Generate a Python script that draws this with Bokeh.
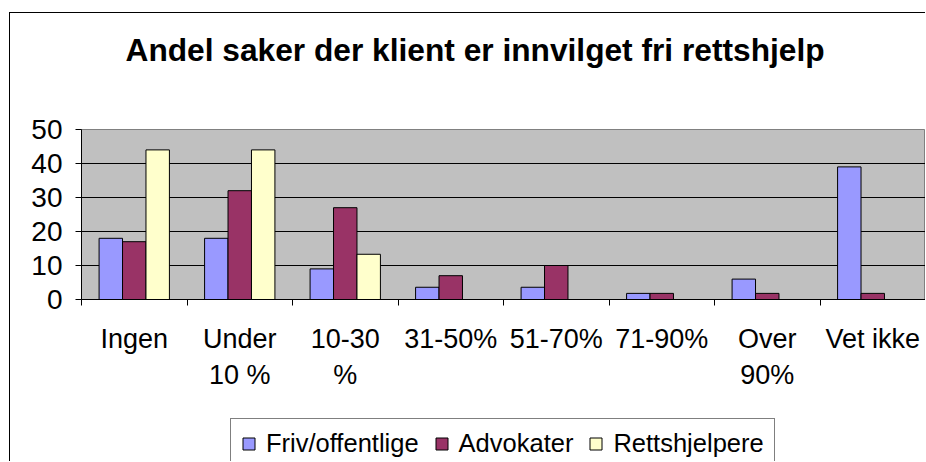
import numpy as np
from bokeh.plotting import figure
from bokeh.layouts import column
from bokeh.models import Range1d, FixedTicker, Legend, LegendItem, ColumnDataSource, Title
from bokeh.embed import file_html
from bokeh.resources import INLINE

categories = ["Ingen", "Under 10 %", "10-30 %", "31-50%", "51-70%", "71-90%", "Over 90%", "Vet ikke"]
tick_labels = ["Ingen", "Under\n10 %", "10-30\n%", "31-50%", "51-70%", "71-90%", "Over\n90%", "Vet ikke"]
series_names = ["Friv/offentlige", "Advokater", "Rettshjelpere"]
friv = [18, 18, 9, 3.6, 3.6, 1.8, 6, 39]
advokater = [17, 32, 27, 7, 10, 1.8, 1.8, 1.8]
rettshjelpere = [44, 44, 13.3, None, None, None, None, None]
colors = ["#9999FF", "#993366", "#FFFFCC"]
y_ticks = [0, 10, 20, 30, 40, 50]
chart_title = "Andel saker der klient er innvilget fri rettshjelp"

FONT = "Liberation Sans"
W = 915


def blank(height):
    f = figure(width=W, height=height, output_backend="svg", toolbar_location=None,
               x_range=Range1d(0, 1), y_range=Range1d(0, 1),
               min_border_left=0, min_border_right=0, min_border_top=0, min_border_bottom=0)
    f.axis.visible = False
    f.grid.visible = False
    f.outline_line_color = None
    f.background_fill_color = "white"
    f.border_fill_color = "white"
    return f


# ---- title strip
pt = blank(90)
pt.title = Title(text=chart_title, align="left", offset=44, standoff=33,
                 text_font=FONT, text_font_size="31.7px", text_font_style="bold",
                 text_color="black")

# ---- main chart
p = figure(width=W, height=297, output_backend="svg", toolbar_location=None,
           x_range=Range1d(0, len(categories)), y_range=Range1d(0, 50),
           min_border_left=71, min_border_top=26, min_border_right=0, min_border_bottom=101)
p.background_fill_color = "#C0C0C0"
p.border_fill_color = "white"
p.outline_line_color = "#808080"

centers = np.arange(len(categories)) + 0.5
bw = 1 / 4.5
for k, (vals, col) in enumerate(zip([friv, advokater, rettshjelpere], colors)):
    xs = [c + (k - 1) * bw for c, v in zip(centers, vals) if v is not None]
    ys = [v for v in vals if v is not None]
    src = ColumnDataSource(dict(x=xs, top=ys))
    p.vbar(x="x", top="top", bottom=0, width=bw, source=src, fill_color=col,
           line_color="black", line_width=1)

p.xaxis.ticker = FixedTicker(ticks=list(centers), minor_ticks=list(range(len(categories) + 1)))
p.xaxis.major_label_overrides = {float(c): lab for c, lab in zip(centers, tick_labels)}
p.xaxis.major_tick_line_color = None
p.xaxis.major_tick_out = 0
p.xaxis.major_tick_in = 0
p.xaxis.minor_tick_line_color = "black"
p.xaxis.minor_tick_out = 6
p.xaxis.minor_tick_in = 0
p.xaxis.major_label_standoff = 18
p.xaxis.major_label_text_font = FONT
p.xaxis.major_label_text_font_size = "27px"
p.xaxis.major_label_text_color = "black"
p.xaxis.axis_line_color = "black"

p.yaxis.ticker = FixedTicker(ticks=y_ticks)
p.yaxis.minor_tick_line_color = None
p.yaxis.major_tick_out = 6
p.yaxis.major_tick_in = 0
p.yaxis.major_tick_line_color = "black"
p.yaxis.major_label_standoff = 13
p.yaxis.major_label_text_font = FONT
p.yaxis.major_label_text_font_size = "28px"
p.yaxis.major_label_text_color = "black"
p.yaxis.axis_line_color = "black"

p.xgrid.grid_line_color = None
p.ygrid.ticker = FixedTicker(ticks=y_ticks[1:-1])
p.ygrid.grid_line_color = "black"
p.ygrid.grid_line_width = 1

# ---- legend strip (swatch renderers sit outside the visible range)
pl = blank(61)
swatches = []
for col in colors:
    src = ColumnDataSource(dict(x=[-5], top=[-5]))
    swatches.append(pl.vbar(x="x", top="top", bottom=-6, width=0.1, source=src,
                            fill_color=col, line_color="black", line_width=1))
legend = Legend(items=[LegendItem(label=n, renderers=[r]) for n, r in zip(series_names, swatches)],
                orientation="horizontal", location=(149, -8))
legend.border_line_color = "black"
legend.border_line_width = 1
legend.background_fill_color = "white"
legend.background_fill_alpha = 1
legend.label_text_font = FONT
legend.label_text_font_size = "25.5px"
legend.label_text_color = "black"
legend.glyph_width = 15
legend.glyph_height = 15
legend.label_standoff = 10
legend.spacing = 15
legend.padding = 10
legend.margin = 0
pl.add_layout(legend, "center")

layout = column(pt, p, pl, spacing=0)
layout.styles = {"margin-top": "12px", "margin-left": "9px",
                 "border-left": "1px solid black", "border-top": "1px solid black"}

open("out.html", "w").write(file_html(layout, INLINE))
